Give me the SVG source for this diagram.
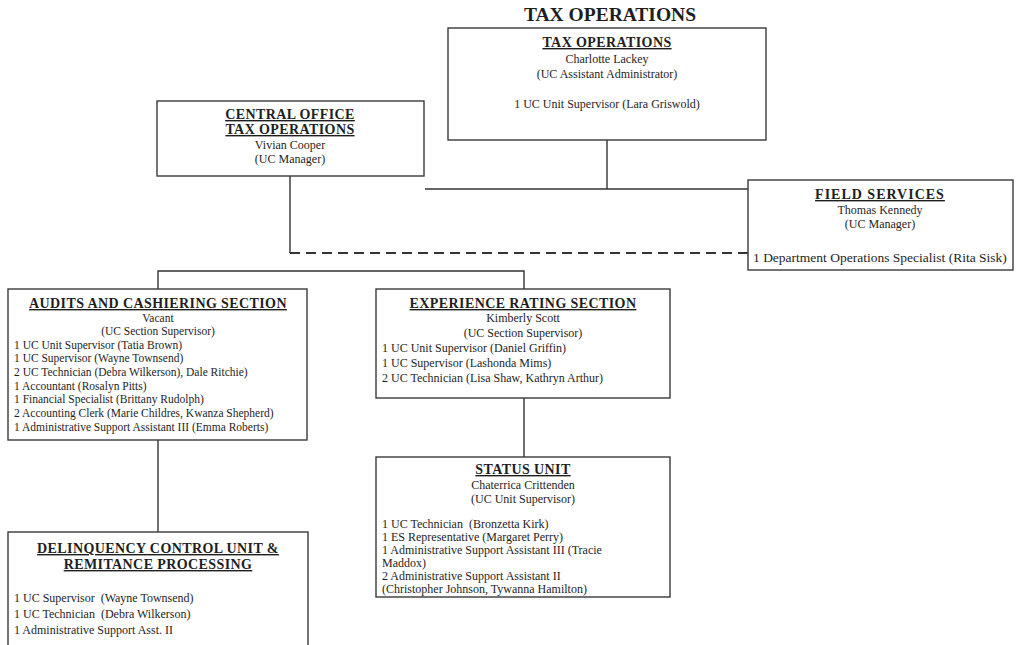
<svg xmlns="http://www.w3.org/2000/svg" width="1016" height="645" viewBox="0 0 1016 645">
  <style>
    .box { fill: #ffffff; stroke: #3a3a3a; stroke-width: 1.4; }
    .line { fill: none; stroke: #333333; stroke-width: 1.4; }
    .dash { fill: none; stroke: #333333; stroke-width: 2; stroke-dasharray: 10 6; }
    text { font-family: "Liberation Serif", "Times New Roman", serif; fill: #1e1e1e; }
    .head { font-weight: bold; font-size: 14px; letter-spacing: 0.4px; text-decoration: underline; text-anchor: middle; }
    .c { font-size: 12px; text-anchor: middle; }
    .l { font-size: 12px; }
    .s { font-size: 11.5px; }
    .w { font-size: 13.5px; }
    .title { font-weight: bold; font-size: 19.5px; text-anchor: middle; }
  </style>

  <rect width="1016" height="645" fill="#ffffff"/>

  <text class="title" x="610" y="21">TAX OPERATIONS</text>

  <!-- connectors -->
  <g id="connectors">
    <path class="line" d="M607 140 V189"/>
    <path class="line" d="M425 189 H748"/>
    <path class="line" d="M290 176 V253"/>
    <path class="dash" d="M290 253 H748"/>
    <path class="line" d="M158 289 V271 H524 V289"/>
    <path class="line" d="M524 398 V457"/>
    <path class="line" d="M158 440 V532"/>
  </g>

  <g id="tax-operations">
    <rect class="box" x="448" y="28" width="318" height="112"/>
    <text class="head" x="607" y="47">TAX OPERATIONS</text>
    <text class="c" x="607" y="63">Charlotte Lackey</text>
    <text class="c" x="607" y="78">(UC Assistant Administrator)</text>
    <text class="c" x="607" y="108">1 UC Unit Supervisor (Lara Griswold)</text>
  </g>

  <g id="central-office">
    <rect class="box" x="157" y="101" width="267" height="75"/>
    <text class="head" x="290" y="119">CENTRAL OFFICE</text>
    <text class="head" x="290" y="134">TAX OPERATIONS</text>
    <text class="c" x="290" y="149">Vivian Cooper</text>
    <text class="c" x="290" y="163">(UC Manager)</text>
  </g>

  <g id="field-services">
    <rect class="box" x="748" y="180" width="265" height="90"/>
    <text class="head" x="880" y="199" style="letter-spacing:1px">FIELD SERVICES</text>
    <text class="c" x="880" y="214">Thomas Kennedy</text>
    <text class="c" x="880" y="228">(UC Manager)</text>
    <text class="w" x="753" y="262">1 Department Operations Specialist (Rita Sisk)</text>
  </g>

  <g id="audits-cashiering">
    <rect class="box" x="8" y="289" width="299" height="151"/>
    <text class="head" x="158" y="308">AUDITS AND CASHIERING SECTION</text>
    <text class="c s" x="158" y="322">Vacant</text>
    <text class="c s" x="158" y="335">(UC Section Supervisor)</text>
    <text class="s" x="14" y="349">1 UC Unit Supervisor (Tatia Brown)</text>
    <text class="s" x="14" y="362">1 UC Supervisor (Wayne Townsend)</text>
    <text class="s" x="14" y="376">2 UC Technician (Debra Wilkerson), Dale Ritchie)</text>
    <text class="s" x="14" y="390">1 Accountant (Rosalyn Pitts)</text>
    <text class="s" x="14" y="403">1 Financial Specialist (Brittany Rudolph)</text>
    <text class="s" x="14" y="417">2 Accounting Clerk (Marie Childres, Kwanza Shepherd)</text>
    <text class="s" x="14" y="431">1 Administrative Support Assistant III (Emma Roberts)</text>
  </g>

  <g id="experience-rating">
    <rect class="box" x="376" y="289" width="294" height="109"/>
    <text class="head" x="523" y="308">EXPERIENCE RATING SECTION</text>
    <text class="c" x="523" y="322">Kimberly Scott</text>
    <text class="c" x="523" y="337">(UC Section Supervisor)</text>
    <text class="l" x="382" y="352">1 UC Unit Supervisor (Daniel Griffin)</text>
    <text class="l" x="382" y="367">1 UC Supervisor (Lashonda Mims)</text>
    <text class="l" x="382" y="382">2 UC Technician (Lisa Shaw, Kathryn Arthur)</text>
  </g>

  <g id="status-unit">
    <rect class="box" x="376" y="457" width="294" height="140"/>
    <text class="head" x="523" y="474">STATUS UNIT</text>
    <text class="c" x="523" y="489">Chaterrica Crittenden</text>
    <text class="c" x="523" y="503">(UC Unit Supervisor)</text>
    <text class="l" x="382" y="528" xml:space="preserve">1 UC Technician  (Bronzetta Kirk)</text>
    <text class="l" x="382" y="541">1 ES Representative (Margaret Perry)</text>
    <text class="l" x="382" y="554">1 Administrative Support Assistant III (Tracie</text>
    <text class="l" x="382" y="567">Maddox)</text>
    <text class="l" x="382" y="580">2 Administrative Support Assistant II</text>
    <text class="l" x="382" y="593">(Christopher Johnson, Tywanna Hamilton)</text>
  </g>

  <g id="delinquency-control">
    <rect class="box" x="8" y="532" width="300" height="130"/>
    <text class="head" x="158" y="553">DELINQUENCY CONTROL UNIT &amp;</text>
    <text class="head" x="158" y="569">REMITANCE PROCESSING</text>
    <text class="l" x="14" y="602" xml:space="preserve">1 UC Supervisor  (Wayne Townsend)</text>
    <text class="l" x="14" y="618" xml:space="preserve">1 UC Technician  (Debra Wilkerson)</text>
    <text class="l" x="14" y="634">1 Administrative Support Asst. II</text>
  </g>
</svg>
